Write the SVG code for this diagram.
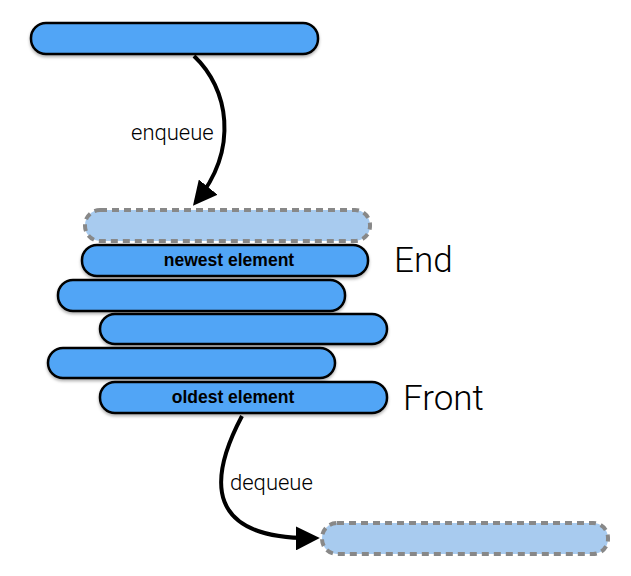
<svg xmlns="http://www.w3.org/2000/svg" width="631" height="576" viewBox="0 0 631 576">
<defs>
<style>
.bar{fill:#51a5f6;stroke:#000;stroke-width:2.5}
.ghost{fill:#a8cbef;stroke:#888;stroke-width:4;stroke-dasharray:7,5}
.lbl{font-family:"Liberation Sans",Arial,sans-serif;font-weight:bold;font-size:17.5px;text-anchor:middle;fill:#000}
.big{font-family:Roboto,"Liberation Sans",sans-serif;font-weight:300;font-size:35px;fill:#000}
.op{font-family:Roboto,"Liberation Sans",sans-serif;font-weight:300;font-size:22px;fill:#000}
.conn{fill:none;stroke:#000;stroke-width:4}
</style>
<filter id="sh" x="-5%" y="-20%" width="110%" height="160%">
<feDropShadow dx="0" dy="2" stdDeviation="1.5" flood-color="#000" flood-opacity="0.3"/>
</filter>
<marker id="ah" viewBox="0 0 10 10" refX="8" refY="5" markerWidth="6" markerHeight="6" markerUnits="strokeWidth" orient="auto">
<path d="M0,0 L10,5 L0,10 z" fill="#000"/>
</marker>
</defs>
<g id="source"><rect class="bar" x="31" y="23" width="287" height="31" rx="15" filter="url(#sh)"/></g>
<g id="slot-end"><rect class="ghost" x="85" y="210" width="285" height="31" rx="15"/></g>
<g id="bar1"><rect class="bar" x="82" y="245" width="286" height="31" rx="15" filter="url(#sh)"/><text class="lbl" x="229" y="266">newest element</text></g>
<g id="bar2"><rect class="bar" x="58" y="280" width="287" height="31" rx="15" filter="url(#sh)"/></g>
<g id="bar3"><rect class="bar" x="100" y="314" width="287" height="30" rx="15" filter="url(#sh)"/></g>
<g id="bar4"><rect class="bar" x="48" y="348" width="287" height="30" rx="15" filter="url(#sh)"/></g>
<g id="bar5"><rect class="bar" x="100" y="382" width="287" height="31" rx="15" filter="url(#sh)"/><text class="lbl" x="233" y="403">oldest element</text></g>
<g id="slot-out"><rect class="ghost" x="322" y="523" width="286" height="31" rx="15"/></g>
<g id="label-end"><text class="big" x="394" y="272">End</text></g>
<g id="label-front"><text class="big" x="403" y="410">Front</text></g>
<g id="connectors">
<path class="conn" d="M194,56 C228,88 240,148 196,202" marker-end="url(#ah)"/>
<text class="op" x="131" y="140">enqueue</text>
<path class="conn" d="M242,416 C208,480 205,540 315,538" marker-end="url(#ah)"/>
<text class="op" x="230" y="490">dequeue</text>
</g>
</svg>
